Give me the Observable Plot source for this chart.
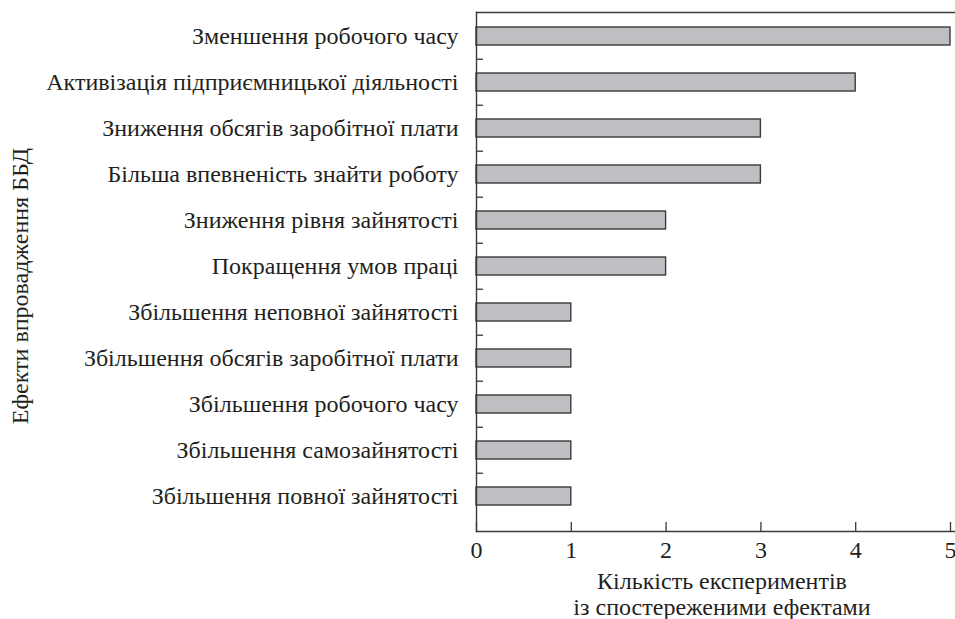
<!DOCTYPE html>
<html><head><meta charset="utf-8">
<script src="https://cdn.jsdelivr.net/npm/d3@7"></script>
<script src="https://cdn.jsdelivr.net/npm/@observablehq/plot@0.6"></script>
<style>
body{margin:0;background:#fff}
</style>
</head><body><div id="chart"></div>
<script>
const categories = [
  "Зменшення робочого часу",
  "Активізація підприємницької діяльності",
  "Зниження обсягів заробітної плати",
  "Більша впевненість знайти роботу",
  "Зниження рівня зайнятості",
  "Покращення умов праці",
  "Збільшення неповної зайнятості",
  "Збільшення обсягів заробітної плати",
  "Збільшення робочого часу",
  "Збільшення самозайнятості",
  "Збільшення повної зайнятості"
];
const values = [5, 4, 3, 3, 2, 2, 1, 1, 1, 1, 1];
const xTicks = [0, 1, 2, 3, 4, 5];
const yTitle = "Ефекти впровадження ББД";
const xTitle = "Кількість експериментів\nіз спостереженими ефектами";

const data = categories.map((c, i) => ({effect: c, count: values[i]}));
const ink = "#231f20";
const lineCol = "#3a3a3a";
const font = "Liberation Serif";
const fs = 24;
const yRange = [10, 522.3];
const step = (yRange[1] - yRange[0]) / categories.length;

const chart = Plot.plot({
  width: 955, height: 619,
  marginTop: 12, marginBottom: 88, marginLeft: 476, marginRight: 0,
  style: {fontFamily: font, fontSize: fs + "px", color: ink, background: "#fff"},
  x: {domain: [0, 5], range: [476, 950]},
  y: {domain: categories, range: yRange, paddingInner: 0.61, paddingOuter: 0.305, label: null},
  marks: [
    Plot.barX(data, {x: "count", y: "effect", fill: "#bebfc3", stroke: lineCol, strokeWidth: 1.4}),
    Plot.frame({anchor: "top", stroke: lineCol, strokeWidth: 1.4}),
    Plot.frame({anchor: "bottom", stroke: lineCol, strokeWidth: 1.4}),
    Plot.frame({anchor: "left", stroke: lineCol, strokeWidth: 1.4}),
    Plot.axisX({ticks: xTicks, tickSize: -9, fill: null, label: null, stroke: lineCol, strokeWidth: 1.3}),
    Plot.axisX({ticks: xTicks, tickSize: 0, tickPadding: 9, tickFormat: d => String(d), label: null, fill: ink, fontFamily: font, fontSize: fs}),
    Plot.axisY({ticks: categories.slice(1), tickSize: -7, fill: null, label: null, dy: -step / 2, stroke: lineCol, strokeWidth: 1.3}),
    Plot.axisY({tickSize: 0, tickPadding: 18, label: null, fill: ink, fontFamily: font, fontSize: fs}),
    Plot.text([yTitle], {frameAnchor: "left", textAnchor: "middle", rotate: -90, dx: -456, dy: 14, fill: ink, fontFamily: font, fontSize: fs}),
    Plot.text([xTitle], {frameAnchor: "bottom", lineAnchor: "top", dy: 39, dx: 6, lineHeight: 1.08, fill: ink, fontFamily: font, fontSize: fs})
  ]
});
document.getElementById("chart").appendChild(chart);
</script>
</body></html>
